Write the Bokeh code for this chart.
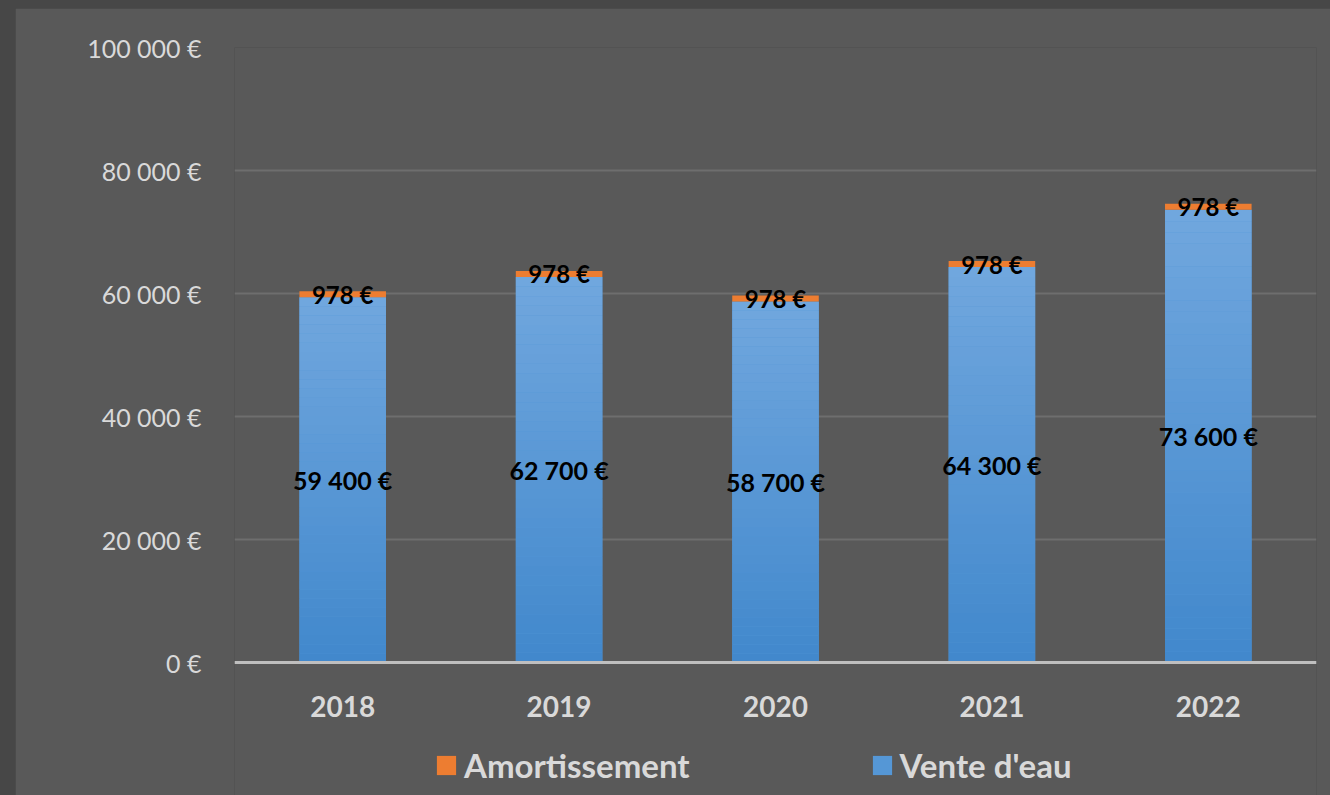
from bokeh.plotting import figure
from bokeh.models import FactorRange, Range1d, FixedTicker, Legend, LegendItem, ColumnDataSource, Span
from bokeh.core.properties import value
from bokeh.embed import file_html
from bokeh.resources import INLINE

years = ["2018", "2019", "2020", "2021", "2022"]
vente = [59400, 62700, 58700, 64300, 73600]
amort = [978, 978, 978, 978, 978]
y_ticks = [0, 20000, 40000, 60000, 80000, 100000]
y_tick_labels = ["0 €", "20 000 €", "40 000 €", "60 000 €", "80 000 €", "100 000 €"]

BG = "#595959"
TXT = "#d9d9d9"

def fmt(v):
    return f"{v:,}".replace(",", " ") + " €"

# plot area extends below zero to hold the category labels and the legend
p = figure(x_range=FactorRange(*years), y_range=Range1d(-21626, 100000),
           frame_width=1082, frame_height=748, output_backend="svg", toolbar_location=None,
           min_border_left=219, min_border_right=14, min_border_top=39, min_border_bottom=0)
p.background_fill_color = BG
p.border_fill_color = BG
p.outline_line_color = None

p.xgrid.grid_line_color = None
p.ygrid.grid_line_color = "#6e6e6e"
p.ygrid.grid_line_width = 2
p.yaxis.ticker = FixedTicker(ticks=y_ticks)
p.yaxis.major_label_overrides = {t: l for t, l in zip(y_ticks, y_tick_labels)}
p.yaxis.axis_line_color = None
p.yaxis.major_tick_line_color = None
p.yaxis.minor_tick_line_color = None
p.yaxis.major_label_standoff = 27
p.yaxis.major_label_text_font = "Lato"
p.yaxis.major_label_text_font_size = "25px"
p.yaxis.major_label_text_color = TXT

p.xaxis.fixed_location = 0
p.xaxis.axis_line_color = None
p.xaxis.major_tick_line_color = None
p.xaxis.major_label_standoff = 27
p.xaxis.major_label_text_font = "Lato"
p.xaxis.major_label_text_font_style = "bold"
p.xaxis.major_label_text_font_size = "28px"
p.xaxis.major_label_text_color = TXT

W = 0.40
src = ColumnDataSource(dict(x=years, vente=vente, amort=amort,
                            top2=[a + b for a, b in zip(vente, amort)],
                            mid1=[v / 2 for v in vente],
                            mid2=[v + a / 2 for v, a in zip(vente, amort)],
                            lab1=[fmt(v) for v in vente],
                            lab2=[fmt(a) for a in amort]))

blue = p.vbar(x="x", top="vente", bottom=0, width=W, source=src,
              fill_color="#5597d6", line_color=None)

# vertical gradient (dark bottom -> light top) in slices of each bar
N = 40
c0 = (0x41, 0x88, 0xcc)
c1 = (0x71, 0xa7, 0xde)
for k in range(N):
    t = (k + 0.5) / N
    col = "#%02x%02x%02x" % tuple(int(round(a + (b - a) * t)) for a, b in zip(c0, c1))
    p.vbar(x=years, bottom=[v * k / N for v in vente], top=[v * (k + 1) / N for v in vente],
           width=W, fill_color=col, line_color=None)

orange = p.vbar(x="x", bottom="vente", top="top2", width=W, source=src,
                fill_color="#ed7d31", line_color=None)

base = Span(location=0, dimension="width", line_color="#bfbfbf", line_width=3)
p.add_layout(base)

p.text(x="x", y="mid1", text="lab1", source=src, text_align="center", text_baseline="middle",
       text_font=value("Lato"), text_font_style="bold", text_font_size="25px", text_color="black")
p.text(x="x", y="mid2", text="lab2", source=src, text_align="center", text_baseline="middle",
       text_font=value("Lato"), text_font_style="bold", text_font_size="24px", text_color="black")

legend = Legend(items=[LegendItem(label="Amortissement", renderers=[orange]),
                       LegendItem(label="Vente d'eau", renderers=[blue])],
                orientation="horizontal", location=(200, 10),
                background_fill_alpha=0, border_line_color=None,
                label_text_font="Lato", label_text_font_style="bold",
                label_text_font_size="33px", label_text_color=TXT,
                glyph_width=24, glyph_height=24, spacing=180, label_standoff=6,
                margin=0, padding=0)
p.add_layout(legend, "center")

html = file_html(p, INLINE)
html = html.replace("</head>", "<style>html,body{background:#474747;margin:0;padding:0;overflow:hidden;}body{padding:8px 0 0 15px;}</style></head>", 1)
open("out.html", "w").write(html)
